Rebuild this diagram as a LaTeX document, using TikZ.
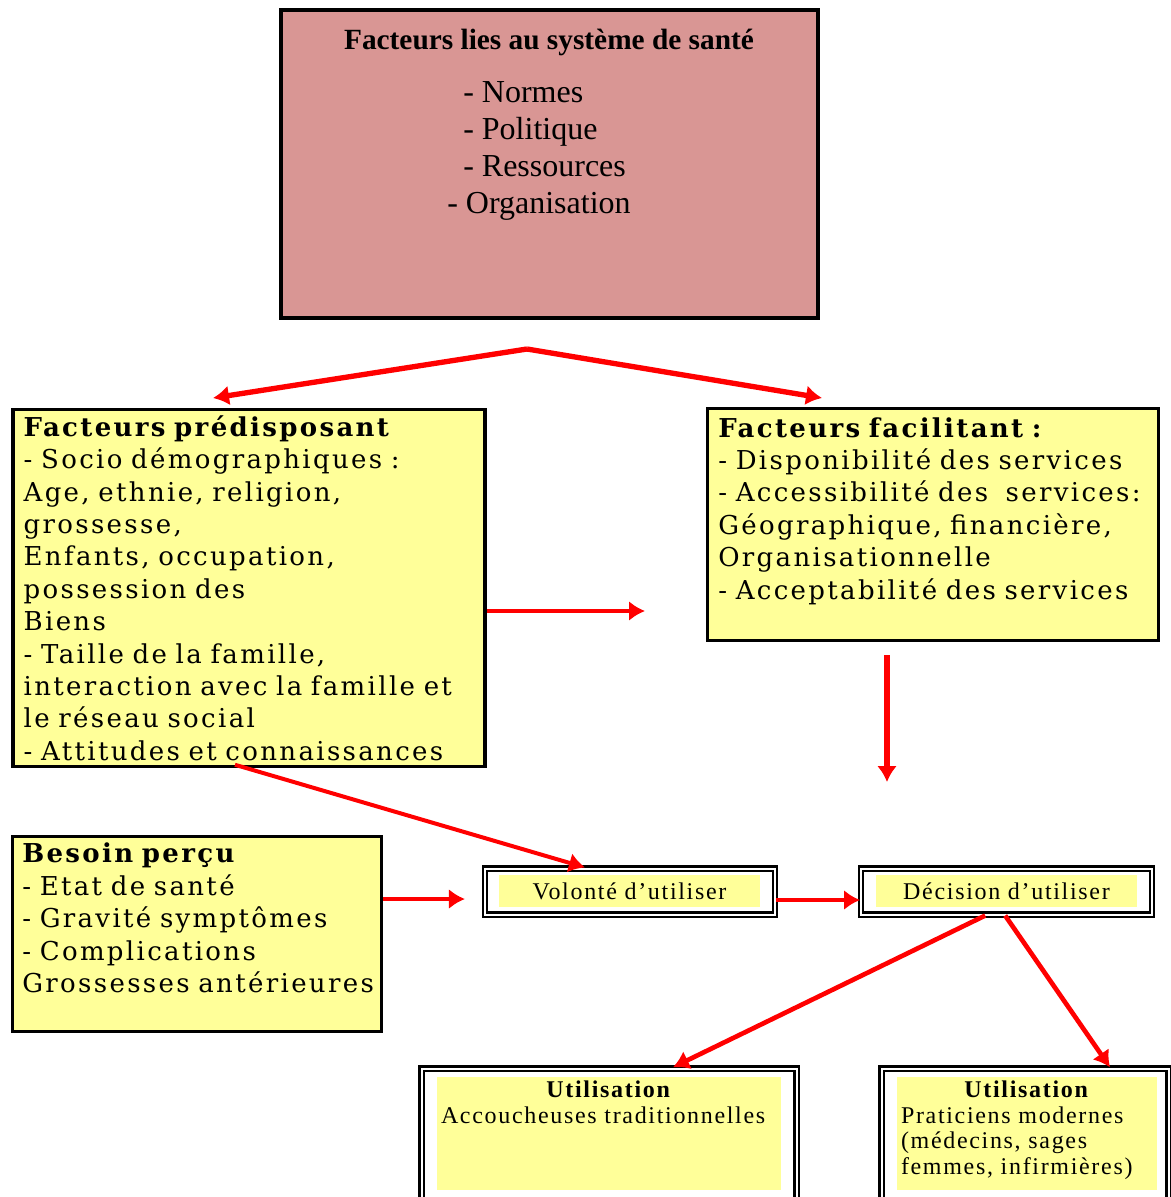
\documentclass[tikz,border=0pt]{standalone}
\usepackage{fontspec}
\setmainfont{Liberation Serif}
\newfontfamily\bookfont[LetterSpace=9,WordSpace=1.4]{DejaVu Serif}
\newfontfamily\timesw[LetterSpace=7]{Liberation Serif}
\usetikzlibrary{arrows.meta}
\definecolor{santerose}{HTML}{D99694}
\definecolor{facjaune}{HTML}{FFFF99}
\definecolor{flecherouge}{HTML}{FF0000}

\begin{document}
\begin{tikzpicture}[
      x=0.75pt, y=-0.75pt,
      >={Latex[length=12pt,width=15pt]},
      sysnode/.style={
          rectangle, draw, line width=3pt, fill=santerose,
          minimum width=402.75pt, minimum height=231pt
      },
      facnode/.style={
          rectangle, draw, line width=2.6pt, fill=facjaune,
          align=left, inner xsep=8pt, inner ysep=2pt,
          font=\bookfont\fontsize{19.5}{24.3}\selectfont
      },
      framenode/.style={
          rectangle, draw, fill=white,
          line width=1.6pt, double=white, double distance=1.5pt
      },
      innernode/.style={
          rectangle, fill=facjaune, inner sep=3pt,
          font=\timesw\fontsize{18}{19.2}\selectfont
      },
      flow/.style={->, draw=flecherouge, line width=3.5pt}
  ]
    \useasboundingbox (0,0) rectangle (1171,1197);
    \clip (0,0) rectangle (1171,1197);

    % (a) Facteurs lies au systeme de sante
    \node[sysnode] (sys) at (549.5,164) {};
    \node[font=\bfseries\fontsize{22}{26}\selectfont] (sysT) at (549,42)
        {Facteurs lies au système de santé};
    \node[anchor=north west, inner sep=0pt, align=left,
          font=\fontsize{24}{27.75}\selectfont] (sysL) at (447,81)
        {\hspace*{12pt}- Normes\\ \hspace*{12pt}- Politique\\
         \hspace*{12pt}- Ressources\\ - Organisation};

    % (b) Facteurs predisposant (left)
    \node[facnode, text width=338pt, minimum height=267.75pt] (pred) at (249,588)
        {\textbf{Facteurs prédisposant}\\
         - Socio démographiques :\\
         Age, ethnie, religion,\\
         grossesse,\\
         Enfants, occupation,\\
         possession des\\
         Biens\\
         - Taille de la famille,\\
         interaction avec la famille et\\
         le réseau social\\
         - Attitudes et connaissances};

    % (c) Facteurs facilitant (right)
    \node[facnode, text width=322pt, minimum height=174pt] (fac) at (933,524.5)
        {\textbf{Facteurs facilitant :}\\
         - Disponibilité des services\\
         - Accessibilité des \ services:\\
         Géographique, financière,\\
         Organisationnelle\\
         - Acceptabilité des services\\
         ~};

    % (d) Besoin percu
    \node[facnode, inner xsep=7.4pt, text width=262pt, minimum height=146.25pt] (besoin) at (197,934)
        {\textbf{Besoin perçu}\\
         - Etat de santé\\
         - Gravité symptômes\\
         - Complications\\
         \mbox{Grossesses antérieures}\\
         ~};

    % (e) Volonte / Decision
    \node[framenode, minimum width=218pt, minimum height=34.5pt] (volF) at (630,891.5) {};
    \node[innernode, minimum width=195.75pt, minimum height=24pt] (vol) at (629.5,891)
        {Volonté d’utiliser};
    \node[framenode, minimum width=218pt, minimum height=34.5pt] (decF) at (1006.5,891.5) {};
    \node[innernode, minimum width=195.75pt, minimum height=24pt] (dec) at (1006.5,891)
        {Décision d’utiliser};

    % (f) Utilisation (bottom)
    \node[framenode, line width=2pt, minimum width=281.25pt, minimum height=106pt] (tradF) at (609,1139.25) {};
    \node[innernode] (trad) at (609,1133.5)
        {\parbox[c][78.75pt][t]{252pt}{\centering\textbf{Utilisation}\par
         \raggedright Accoucheuses traditionnelles}};
    \node[framenode, line width=2pt, minimum width=215.25pt, minimum height=106pt] (modF) at (1025,1139.25) {};
    \node[innernode] (mod) at (1027,1133.5)
        {\parbox[c][78.75pt][t]{189pt}{\centering\textbf{Utilisation}\par
         \raggedright Praticiens modernes\\(médecins, sages\\femmes, infirmières)}};

    % Edges
    \coordinate (split) at (527,349);
    \coordinate (predIn) at (213,398);
    \coordinate (facIn) at (822,398);
    \coordinate (facLeft) at (645,611);
    \coordinate (facDown) at (887,782);
    \draw[flow, line width=4pt] (split) -- (predIn);
    \draw[flow, line width=4pt] (split) -- (facIn);
    \draw[flow] (pred.east |- facLeft) -- (facLeft);
    \draw[flow, line width=4pt, shorten <=9.75pt] (fac.south -| facDown) -- (facDown);
    \draw[flow, line width=3pt] ([xshift=-10.5pt, yshift=2.6pt]pred.south) -- ([xshift=-33.75pt]volF.north);
    \draw[flow, line width=3pt, shorten >=14pt] (besoin.east |- 0,899) -- (volF.west |- 0,899);
    \draw[flow] (volF.east |- 0,900) -- (decF.west |- 0,900);
    \draw[flow] ([xshift=-16pt]decF.south) -- ([xshift=48pt]tradF.north);
    \draw[flow] ([xshift=-1pt]decF.south) -- ([xshift=63.75pt]modF.north);
  \end{tikzpicture}
\end{document}
